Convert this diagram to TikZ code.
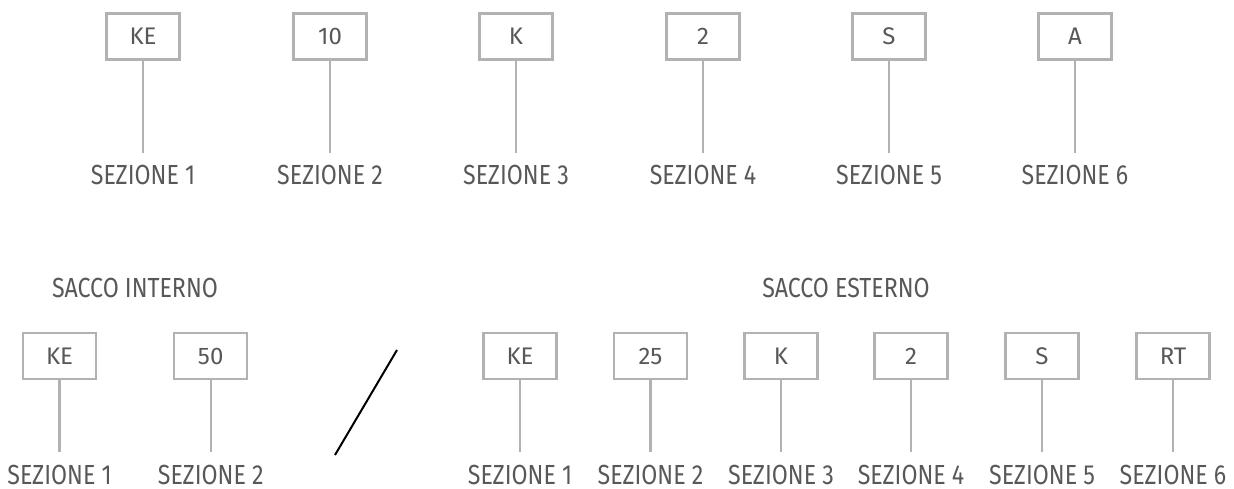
\documentclass[tikz,border=0pt]{standalone}
\usepackage{fontspec}
\setmainfont{Fira Sans}[FakeStretch=0.84]
\newfontfamily\tagfont{Fira Sans}
\definecolor{txtgray}{HTML}{58585A}
\definecolor{boxgray}{HTML}{B2B2B2}
\tikzset{
  tag/.style={draw=boxgray, line width=2.5pt, minimum width=73pt, minimum height=46pt, inner sep=0pt,
     text=txtgray, font=\tagfont\fontsize{24}{26}\selectfont},
  stem/.style={draw=boxgray, line width=2.2pt},
  seclabel/.style={anchor=base, inner sep=0pt, text=txtgray, font=\fontsize{27.6}{30}\selectfont},
  title/.style={inner sep=0pt, text=txtgray, font=\fontsize{27.6}{30}\selectfont},
}
\begin{document}
\begin{tikzpicture}[x=1pt,y=-1pt]
\useasboundingbox (0,0) rectangle (1234,489);
% top row
\foreach \n/\x/\t in {1/143/KE,2/330/10,3/516/K,4/703/2,5/889/S,6/1075/A}{
  \node[tag] (t\n) at (\x,36.5) {\t};
  \coordinate (te\n) at (\x,153);
  \draw[stem] (t\n) -- (te\n);
  \node[seclabel] (tl\n) at (\x,185) {SEZIONE \n};
}
% titles
\node[title] (ti) at (135,288) {SACCO INTERNO};
\node[title] (te) at (846,288) {SACCO ESTERNO};
% bottom left
\foreach \n/\x/\t in {1/59.5/KE,2/210.7/50}{
  \node[tag] (i\n) at (\x,356) {\t};
  \coordinate (ie\n) at (\x,452);
  \draw[stem] (i\n) -- (ie\n);
  \node[seclabel] (il\n) at (\x,484) {SEZIONE \n};
}
% slash
\coordinate (sa) at (397,350);
\coordinate (sb) at (335,455);
\draw[line width=2pt, black] (sa) -- (sb);
% bottom right
\foreach \n/\x/\t in {1/520/KE,2/650.5/25,3/781/K,4/911/2,5/1042/S,6/1173/RT}{
  \node[tag] (e\n) at (\x,356) {\t};
  \coordinate (ee\n) at (\x,452);
  \draw[stem] (e\n) -- (ee\n);
  \node[seclabel] (el\n) at (\x,484) {SEZIONE \n};
}
\end{tikzpicture}
\end{document}
